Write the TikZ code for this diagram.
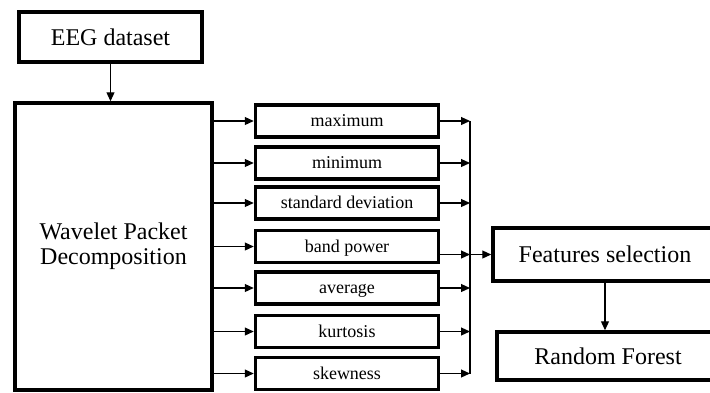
\documentclass[tikz,border=0pt]{standalone}
\usepackage{fontspec}
\setmainfont{Liberation Serif}
\usetikzlibrary{arrows.meta}
\begin{document}
\begin{tikzpicture}[x=1pt,y=-1pt,
  bigbox/.style={draw=black,line width=3.5pt,fill=white,inner sep=0pt,
    font=\fontsize{24}{25}\selectfont,align=center},
  featbox/.style={draw=black,line width=3.5pt,fill=white,inner sep=0pt,
    minimum width=183pt,minimum height=32pt,text height=11.5pt,text depth=0pt,
    font=\fontsize{18}{20}\selectfont},
  flow/.style={line width=1.2pt,-{Triangle[length=9pt,width=8pt]}},
  busline/.style={line width=1.2pt}]
\useasboundingbox (0,0) rectangle (710,392);

% main processing chain
\node[bigbox,minimum width=183pt,minimum height=50pt] (eeg) at (110.5,37) {EEG dataset};
\node[bigbox,minimum width=197pt,minimum height=287pt] (wpd) at (113.5,246.5)
  {Wavelet Packet\\Decomposition};

% extracted features
\node[featbox] (fmax) at (347,121)   {maximum};
\node[featbox] (fmin) at (347,163)   {minimum};
\node[featbox] (fstd) at (347,203)   {standard deviation};
\node[featbox] (fbp)  at (347,246.5) {band power};
\node[featbox] (favg) at (347,288)   {average};
\node[featbox] (fkur) at (347,331.5) {kurtosis};
\node[featbox] (fskw) at (347,373.5) {skewness};

% selection and classifier (running off the right edge)
\node[bigbox,minimum width=224pt,minimum height=53pt] (fs) at (605,254.5) {Features selection};
\node[bigbox,minimum width=222pt,minimum height=48pt] (rf) at (608,356) {Random Forest};

% collecting bus
\coordinate (bustop) at (470,121);
\coordinate (busbot) at (470,373.5);
\coordinate (junc) at (bustop |- fs.west);
\draw[busline] (bustop) -- (busbot);

\draw[flow] (eeg) -- (eeg.south |- wpd.north);

\foreach \f in {fmax,fmin,fstd,favg,fkur,fskw}{
  \draw[flow] (wpd.east |- \f.west) -- (\f.west);
  \draw[flow] (\f.east) -- (bustop |- \f.east);
}
\draw[flow] (wpd.east |- fbp.west) -- (fbp.west);
\draw[flow] (fbp.east |- junc) -- (junc);
\draw[flow] (junc) -- (fs.west);

\draw[flow] (fs.south) -- (fs.south |- rf.north);
\end{tikzpicture}
\end{document}
